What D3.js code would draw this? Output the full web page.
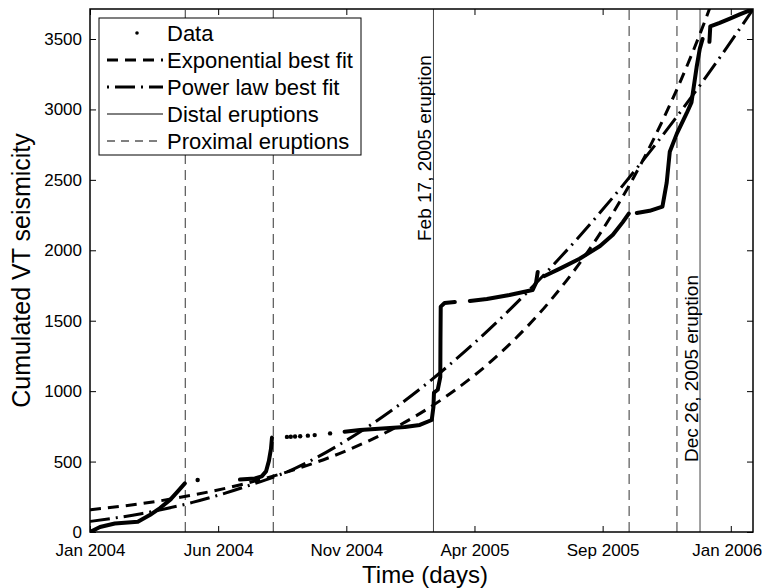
<!DOCTYPE html>
<html>
<head>
<meta charset="utf-8">
<script src="https://cdn.jsdelivr.net/npm/d3@7"></script>
<style>
  body { margin: 0; background: #fff; }
  svg { font-family: "Liberation Sans", Arial, sans-serif; }
</style>
</head>
<body>
<div id="chart-container"></div>
<script>
// days are counted from Jan 1, 2004
const ORIGIN = new Date(2004, 0, 1);

// cumulated VT count, null breaks the record (data gaps)
const dataDays = [11, 22.7, 40, 67, 81, 93, 105, 114, 122, null,
  186.5, 204, 212, 217, 220.4, 222.8, 224, null,
  309, 327, 344.5, 362, 379.5, 397, 411, 413, 413.6, 418, 421, 421.2, 421.5, 426, 438, null,
  455.6, 475.5, 502, 529, 533, 535, null,
  543, 561, 584, 608, 623, 634.6, 641.6, null,
  651, 666, 681, 686, 689.6, 698, 709.5, 715, 721, 724.7, 728, null,
  736, 737, 748, 760, 771.5, 787];
const dataCounts = [0, 35, 60, 72, 120, 170, 230, 290, 345, null,
  372, 380, 395, 430, 505, 590, 670, null,
  712, 724, 731, 738, 745, 760, 795, 890, 990, 1010, 1100, 1360, 1600, 1626, 1633, null,
  1640, 1654, 1683, 1718, 1768, 1846, null,
  1817, 1870, 1940, 2030, 2110, 2200, 2260, null,
  2265, 2280, 2310, 2480, 2700, 2830, 2975, 3050, 3300, 3430, 3500, null,
  3480, 3590, 3615, 3645, 3675, 3713];
// sparse single events drawn as dots
const isolatedDays = [137, 241.5, 246, 251, 257, 266, 274, 292];
const isolatedCounts = [369, 675, 676, 678, 680, 684, 688, 700];

// best fit curves
const fitDays = [11, 71, 131, 191, 251, 311, 371, 431, 491, 551, 611, 671, 731, 746, 787];
const expFit = [158, 201, 262, 341, 444, 577, 750, 976, 1269, 1651, 2147, 2793, 3632, 3880, 4600];
const powFit = [75, 130, 210, 318, 452, 650, 894, 1183, 1512, 1881, 2289, 2736, 3222, 3350, 3710];

const distalDays = [413, 725];
const distalLabels = ["Feb 17, 2005 eruption", "Dec 26, 2005 eruption"];
const proximalDays = [122.5, 225.5, 642, 698];

const xTickDays = [11, 161, 311, 461, 611, 761];
const yTicks = [0, 500, 1000, 1500, 2000, 2500, 3000, 3500];

const legendLabels = ["Data", "Exponential best fit", "Power law best fit", "Distal eruptions", "Proximal eruptions"];

const toDate = d => new Date(ORIGIN.getTime() + d * 864e5);

const W = 762, H = 588;
const margin = { top: 9, right: 9, bottom: 56, left: 90 };

const svg = d3.select("#chart-container")
  .append("svg")
  .attr("width", W)
  .attr("height", H);

const x = d3.scaleTime()
  .domain([toDate(11), toDate(787)])
  .range([margin.left, W - margin.right]);

const y = d3.scaleLinear()
  .domain([0, 3713])
  .range([H - margin.bottom, margin.top]);

const plot = svg.append("g");
svg.append("clipPath").attr("id", "clip")
  .append("rect")
  .attr("x", margin.left).attr("y", margin.top)
  .attr("width", W - margin.left - margin.right)
  .attr("height", H - margin.top - margin.bottom);

const inner = plot.append("g").attr("clip-path", "url(#clip)");

// eruption lines
inner.selectAll(".distal")
  .data(distalDays)
  .join("line")
  .attr("x1", d => x(toDate(d))).attr("x2", d => x(toDate(d)))
  .attr("y1", y.range()[0]).attr("y2", y.range()[1])
  .attr("stroke", "#444")
  .attr("stroke-width", 1);

inner.selectAll(".proximal")
  .data(proximalDays)
  .join("line")
  .attr("x1", d => x(toDate(d))).attr("x2", d => x(toDate(d)))
  .attr("y1", y.range()[0]).attr("y2", y.range()[1])
  .attr("stroke", "#333")
  .attr("stroke-width", 1)
  .attr("stroke-dasharray", "10,6");

// fits
const fitLine = vals => d3.line()
  .x((d, i) => x(toDate(d)))
  .y((d, i) => y(vals[i]))
  .curve(d3.curveMonotoneX)(fitDays);

inner.append("path")
  .attr("d", fitLine(expFit))
  .attr("fill", "none")
  .attr("stroke", "#000")
  .attr("stroke-width", 3)
  .attr("stroke-dasharray", "11,7");

inner.append("path")
  .attr("d", fitLine(powFit))
  .attr("fill", "none")
  .attr("stroke", "#000")
  .attr("stroke-width", 3)
  .attr("stroke-dasharray", "20,6,2,6");

// data
const dataLine = d3.line()
  .defined((d, i) => d !== null && dataCounts[i] !== null)
  .x(d => x(toDate(d)))
  .y((d, i) => y(dataCounts[i]));

inner.append("path")
  .attr("d", dataLine(dataDays))
  .attr("fill", "none")
  .attr("stroke", "#000")
  .attr("stroke-width", 4)
  .attr("stroke-linecap", "round")
  .attr("stroke-linejoin", "round");

inner.selectAll(".dot")
  .data(isolatedDays)
  .join("circle")
  .attr("cx", d => x(toDate(d)))
  .attr("cy", (d, i) => y(isolatedCounts[i]))
  .attr("r", 2.2)
  .attr("fill", "#000");

// eruption labels
plot.selectAll(".elabel")
  .data(distalDays)
  .join("text")
  .attr("transform", (d, i) => `translate(${x(toDate(d)) - 2},${i === 0 ? 241 : 462}) rotate(-90)`)
  .style("font-size", "19px")
  .text((d, i) => distalLabels[i]);

// axes, MATLAB style ticks inside on all four sides
const xAxis = d3.axisBottom(x)
  .tickValues(xTickDays.map(toDate))
  .tickFormat(d3.timeFormat("%b %Y"))
  .tickSizeInner(-6).tickSizeOuter(0).tickPadding(12);

const gx = svg.append("g")
  .attr("transform", `translate(0,${y.range()[0]})`)
  .call(xAxis);
gx.select(".domain").remove();
gx.selectAll(".tick line").attr("stroke", "#000");
gx.selectAll(".tick text")
  .style("font-size", "17px")
  .attr("fill", "#000")
  .attr("dx", (d, i, n) => i === n.length - 1 ? -4 : 0);

const gxt = svg.append("g")
  .attr("transform", `translate(0,${y.range()[1]})`)
  .call(d3.axisTop(x).tickValues(xTickDays.map(toDate)).tickFormat("").tickSizeInner(-6).tickSizeOuter(0));
gxt.select(".domain").remove();

const gy = svg.append("g")
  .attr("transform", `translate(${margin.left},0)`)
  .call(d3.axisLeft(y).tickValues(yTicks).tickFormat(d3.format("d")).tickSizeInner(-6).tickSizeOuter(0).tickPadding(8));
gy.select(".domain").remove();
gy.selectAll(".tick text").style("font-size", "17px").attr("fill", "#000");

const gyr = svg.append("g")
  .attr("transform", `translate(${W - margin.right},0)`)
  .call(d3.axisRight(y).tickValues(yTicks).tickFormat("").tickSizeInner(-6).tickSizeOuter(0));
gyr.select(".domain").remove();

// frame
svg.append("rect")
  .attr("x", margin.left).attr("y", margin.top)
  .attr("width", W - margin.left - margin.right)
  .attr("height", H - margin.top - margin.bottom)
  .attr("fill", "none")
  .attr("stroke", "#000")
  .attr("stroke-width", 1.5);

// axis titles
svg.append("text")
  .attr("x", 425)
  .attr("y", 583)
  .attr("text-anchor", "middle")
  .style("font-size", "24px")
  .text("Time (days)");

svg.append("text")
  .attr("transform", `translate(30,${(margin.top + H - margin.bottom) / 2}) rotate(-90)`)
  .attr("text-anchor", "middle")
  .style("font-size", "25px")
  .text("Cumulated VT seismicity");

// legend
const lg = svg.append("g");
lg.append("rect")
  .attr("x", 99).attr("y", 18)
  .attr("width", 262).attr("height", 137)
  .attr("fill", "#fff")
  .attr("stroke", "#000");

const rowY = i => 33 + i * 27;
lg.append("circle").attr("cx", 137).attr("cy", rowY(0)).attr("r", 1.8).attr("fill", "#000");
const legendStyles = [null,
  { w: 3, dash: "11,7" },
  { w: 3, dash: "2,6,20,6" },
  { w: 1, dash: null },
  { w: 1, dash: "8,6" }];
legendStyles.forEach((s, i) => {
  if (!s) return;
  lg.append("line")
    .attr("x1", 107).attr("x2", 163)
    .attr("y1", rowY(i)).attr("y2", rowY(i))
    .attr("stroke", "#000")
    .attr("stroke-width", s.w)
    .attr("stroke-dasharray", s.dash);
});
lg.selectAll(".ltext")
  .data(legendLabels)
  .join("text")
  .attr("x", 167)
  .attr("y", (d, i) => rowY(i))
  .attr("dy", "0.35em")
  .style("font-size", "22px")
  .text(d => d);
</script>
</body>
</html>
